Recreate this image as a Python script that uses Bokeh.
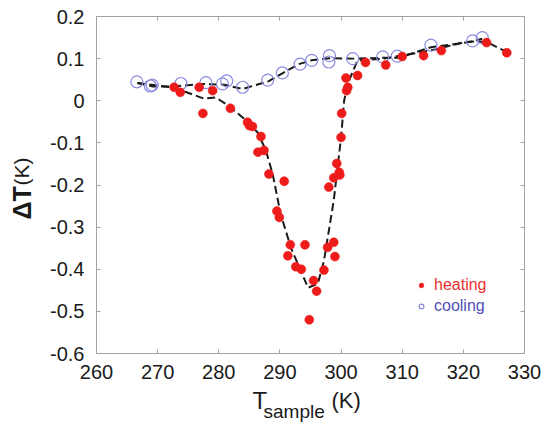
from bokeh.plotting import figure
from bokeh.models import (Range1d, FixedTicker, LinearAxis, Legend, LegendItem, Title,
                          CustomLabelingPolicy)
from bokeh.embed import file_html
from bokeh.resources import INLINE

# ---------------- data ----------------
heat_T = [272.7, 273.7, 276.8, 277.4, 279.0, 281.9, 284.7, 285.0, 285.5, 286.9,
          286.4, 287.4, 288.2, 290.7, 289.5, 289.9, 291.7, 291.3, 292.6, 293.5,
          294.1, 295.5, 296.0, 294.8, 297.2, 297.8, 298.8, 299.0, 298.0, 298.8,
          299.3, 299.7, 299.8, 300.0, 300.1, 300.9, 300.8, 301.1, 302.7, 304.0,
          307.3, 310.0, 313.5, 316.4, 323.8, 327.1]
heat_dT = [0.032, 0.020, 0.032, -0.030, 0.024, -0.018, -0.051, -0.059, -0.061, -0.085,
           -0.122, -0.118, -0.174, -0.191, -0.262, -0.277, -0.342, -0.368, -0.394, -0.400,
           -0.342, -0.427, -0.452, -0.520, -0.402, -0.348, -0.336, -0.370, -0.205, -0.183,
           -0.149, -0.170, -0.176, -0.087, -0.030, 0.024, 0.054, 0.032, 0.060, 0.091,
           0.085, 0.105, 0.107, 0.119, 0.138, 0.114]

cool_T = [266.6, 268.8, 269.1, 273.8, 277.9, 280.6, 281.3, 283.9, 288.0, 290.4,
          293.3, 295.2, 298.1, 298.0, 301.9, 306.8, 309.2, 314.7, 321.5, 323.1]
cool_dT = [0.045, 0.035, 0.037, 0.041, 0.043, 0.040, 0.047, 0.032, 0.049, 0.066,
           0.087, 0.096, 0.107, 0.092, 0.100, 0.104, 0.106, 0.132, 0.142, 0.150]

heat_fit_T = [266.7, 272.7, 277.6, 279.5, 281.5, 284.1, 286.4, 287.7, 288.8, 290.1,
              291.8, 294.6, 296.2, 297.2, 298.8, 300.0, 300.5, 301.1, 302.7, 304.0,
              307.0, 311.4, 315.8, 320.1, 322.3, 323.9, 327.2]
heat_fit_dT = [0.042, 0.031, 0.005, 0.008, -0.011, -0.042, -0.076, -0.118, -0.173, -0.268,
               -0.349, -0.444, -0.434, -0.380, -0.237, -0.087, 0.000, 0.041, 0.096, 0.097,
               0.100, 0.111, 0.123, 0.139, 0.141, 0.139, 0.115]

cool_fit_T = [266.7, 269.2, 272.7, 277.1, 280.9, 283.9, 288.1, 290.4, 293.1, 295.2,
              298.1, 302.1, 307.0, 309.5, 314.7, 318.0, 321.5, 323.1]
cool_fit_dT = [0.042, 0.034, 0.034, 0.040, 0.038, 0.028, 0.046, 0.065, 0.087, 0.096,
               0.101, 0.100, 0.102, 0.102, 0.127, 0.133, 0.141, 0.147]

x_ticks = [260, 270, 280, 290, 300, 310, 320, 330]
y_ticks = [0.2, 0.1, 0, -0.1, -0.2, -0.3, -0.4, -0.5, -0.6]
y_tick_labels = ["0.2", "0.1", "0", "-0.1", "-0.2", "-0.3", "-0.4", "-0.5", "-0.6"]

# ---------------- styles ----------------
RED = "#ee1b1b"
BLUE = "#8b8be0"
BLUE_TEXT = "#5050b8"
GREY = "#a3a3a3"
INK = "#1a1a1a"
FONT = "Liberation Sans"
H = 1.117  # text box height / font size for this font

p = figure(width=543, height=423, output_backend="svg", toolbar_location=None,
           x_range=Range1d(260, 330), y_range=Range1d(-0.6, 0.2),
           min_border_left=96, min_border_right=19, min_border_top=16, min_border_bottom=70)
p.xgrid.visible = False
p.ygrid.visible = False
p.outline_line_color = GREY
p.outline_line_width = 1
p.background_fill_color = "white"
p.border_fill_color = "white"

for ax in (p.xaxis[0], p.yaxis[0]):
    ax.axis_line_color = GREY
    ax.major_tick_line_color = GREY
    ax.minor_tick_line_color = None
    ax.major_tick_in = 4
    ax.major_tick_out = 0
    ax.major_label_text_font = FONT
    ax.major_label_text_color = INK
    ax.major_label_text_font_size = "20px"

p.xaxis.ticker = FixedTicker(ticks=x_ticks)
p.yaxis.ticker = FixedTicker(ticks=y_ticks)
p.yaxis.major_label_overrides = {t: s for t, s in zip(y_ticks, y_tick_labels)}
p.xaxis.major_label_standoff = 11
p.yaxis.major_label_standoff = 12

# box ticks on top and right (no labels)
no_labels = CustomLabelingPolicy(code="""
    for (const i of indices) indices.unset(i)
    return indices
""")
for ticks, side in [(x_ticks, "above"), (y_ticks, "right")]:
    ax = LinearAxis(ticker=FixedTicker(ticks=ticks), axis_line_color=None,
                    major_tick_line_color=GREY, minor_tick_line_color=None,
                    major_tick_in=4, major_tick_out=0, major_label_standoff=0,
                    major_label_text_font_size="1px", major_label_policy=no_labels)
    p.add_layout(ax, side)


def spacer_axis():
    return LinearAxis(ticker=FixedTicker(ticks=[]), axis_line_color=None,
                      major_tick_line_color=None, minor_tick_line_color=None,
                      major_tick_in=0, major_tick_out=0, minor_tick_out=0,
                      major_label_standoff=0)


def title(text, size, offset, room, bold=False):
    # room = space (px) this title takes in its side panel
    return Title(text=text, align="left", vertical_align="middle", offset=offset,
                 standoff=room - 2 - H * size, text_font=FONT,
                 text_font_size=f"{size}px",
                 text_font_style="bold" if bold else "normal", text_color=INK)


# y-axis title: "ΔT (K)"
p.add_layout(spacer_axis(), "left")
p.add_layout(title(" ", 10, 0, 26), "left")
p.add_layout(title("ΔT", 25, 134, 0, bold=True), "left")
p.add_layout(title("(K)", 21, 168, 0), "left")

# x-axis title: "T_sample (K)"
p.add_layout(spacer_axis(), "below")
p.add_layout(title(" ", 10, 0, 19), "below")
p.add_layout(title("T", 24, 156, 0), "below")
p.add_layout(title("(K)", 22, 235, 0), "below")
p.add_layout(title("sample", 19, 167, 22), "below")

# fits
p.line(heat_fit_T, heat_fit_dT, line_color=INK, line_width=2, line_dash="8 4")
p.line(cool_fit_T, cool_fit_dT, line_color=INK, line_width=2, line_dash="8 4")

# data
r_cool = p.scatter(cool_T, cool_dT, marker="circle", size=12, fill_color=None,
                   line_color=BLUE, line_width=1.2)
r_heat = p.scatter(heat_T, heat_dT, marker="circle", size=9, fill_color=RED,
                   line_color=RED, line_width=0.5)

# legends (separate so each text has its own colour)
for label, rend, col, loc in [("heating", r_heat, "#e83030", (319, 59)),
                              ("cooling", r_cool, BLUE_TEXT, (319, 38))]:
    lg = Legend(items=[LegendItem(label=label, renderers=[rend])], location=loc,
                glyph_width=12, glyph_height=18, label_height=18, label_standoff=7,
                padding=0, margin=0, spacing=0, border_line_color=None,
                background_fill_color=None, label_text_font=FONT,
                label_text_font_size="16px", label_text_color=col)
    p.add_layout(lg)

open("out.html", "w").write(file_html(p, INLINE))
